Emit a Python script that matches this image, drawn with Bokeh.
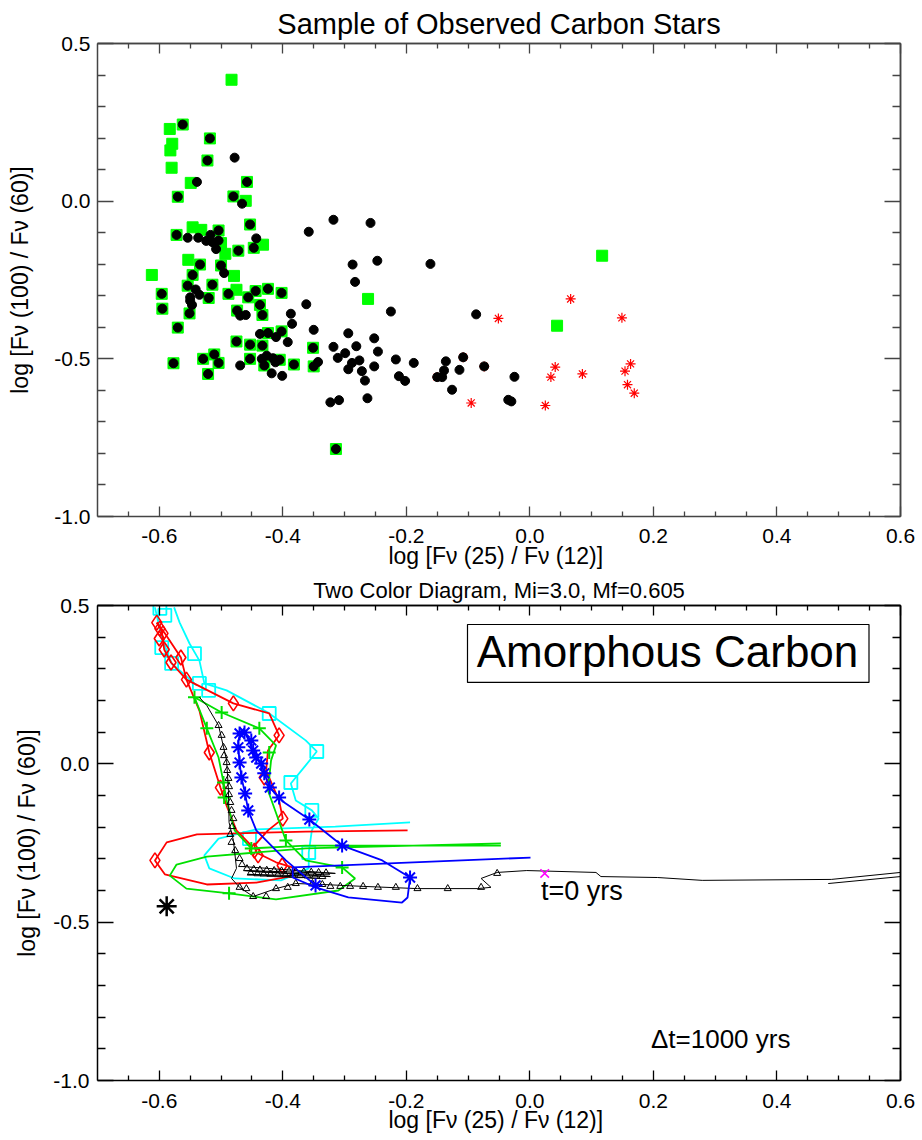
import numpy as np
from bokeh.plotting import figure
from bokeh.models import (Range1d, LinearAxis, FixedTicker, Label, BoxAnnotation,
                          PrintfTickFormatter)
from bokeh.layouts import column
from bokeh.embed import file_html
from bokeh.resources import INLINE

FONT = "Liberation Sans"

# ---------------- axes ----------------
X_MAJOR = [-0.6, -0.4, -0.2, 0.0, 0.2, 0.4, 0.6]
X_MINOR = [-0.65, -0.55, -0.5, -0.45, -0.35, -0.3, -0.25, -0.15, -0.1, -0.05,
           0.05, 0.1, 0.15, 0.25, 0.3, 0.35, 0.45, 0.5, 0.55]
Y_MAJOR = [-1.0, -0.5, 0.0, 0.5]
Y_MINOR = [-0.9, -0.8, -0.7, -0.6, -0.4, -0.3, -0.2, -0.1, 0.1, 0.2, 0.3, 0.4]

TITLE_TOP = "Sample of Observed Carbon Stars"
TITLE_BOTTOM = "Two Color Diagram, Mi=3.0, Mf=0.605"
X_LABEL = "log [Fν (25)  / Fν (12)]"
Y_LABEL = "log [Fν (100) / Fν (60)]"

# ---------------- top panel: observed carbon stars ----------------
BLACK_X = [-0.562, -0.518, -0.522, -0.478, -0.539, -0.458, -0.570, -0.480, -0.466, -0.453,
           -0.358, -0.572, -0.554, -0.537, -0.524, -0.517, -0.514, -0.504, -0.504, -0.508,
           -0.443, -0.447, -0.472, -0.534, -0.500, -0.495, -0.546, -0.514, -0.554, -0.541,
           -0.596, -0.550, -0.535, -0.520, -0.488, -0.456, -0.444, -0.424, -0.402, -0.550,
           -0.547, -0.595, -0.551, -0.437, -0.474, -0.469, -0.460, -0.433, -0.387, -0.362,
           -0.385, -0.570, -0.437, -0.424, -0.411, -0.402, -0.392, -0.350, -0.475, -0.453,
           -0.433, -0.351, -0.577, -0.529, -0.511, -0.504, -0.521, -0.469, -0.453, -0.434,
           -0.426, -0.430, -0.416, -0.412, -0.405, -0.418, -0.401, -0.382, -0.350, -0.343,
           -0.318, -0.258, -0.287, -0.247, -0.283, -0.225, -0.294, -0.252, -0.318, -0.281,
           -0.246, -0.299, -0.311, -0.288, -0.276, -0.294, -0.272, -0.252, -0.267, -0.217,
           -0.188, -0.212, -0.202, -0.323, -0.309, -0.263, -0.314, -0.161, -0.087, -0.136,
           -0.108, -0.139, -0.114, -0.150, -0.142, -0.126, -0.074, -0.025, -0.035, -0.030]
BLACK_Y = [0.243, 0.199, 0.129, 0.138, 0.061, 0.061, 0.014, 0.015, -0.008, -0.074,
           -0.097, -0.107, -0.116, -0.116, -0.126, -0.107, -0.130, -0.093, -0.125, -0.152,
           -0.118, -0.148, -0.157, -0.201, -0.204, -0.228, -0.234, -0.265, -0.268, -0.280,
           -0.294, -0.305, -0.297, -0.307, -0.294, -0.305, -0.285, -0.278, -0.291, -0.316,
           -0.329, -0.341, -0.356, -0.329, -0.347, -0.363, -0.361, -0.361, -0.357, -0.327,
           -0.389, -0.401, -0.421, -0.418, -0.431, -0.413, -0.447, -0.408, -0.445, -0.455,
           -0.458, -0.465, -0.514, -0.500, -0.486, -0.513, -0.548, -0.521, -0.500, -0.500,
           -0.490, -0.521, -0.498, -0.511, -0.503, -0.546, -0.554, -0.518, -0.524, -0.510,
           -0.059, -0.069, -0.201, -0.189, -0.256, -0.350, -0.419, -0.435, -0.462, -0.460,
           -0.477, -0.482, -0.497, -0.513, -0.505, -0.533, -0.539, -0.524, -0.569, -0.502,
           -0.513, -0.555, -0.570, -0.638, -0.631, -0.625, -0.786, -0.199, -0.359, -0.508,
           -0.495, -0.537, -0.535, -0.558, -0.558, -0.598, -0.524, -0.557, -0.630, -0.635]

GREEN_X = [-0.562, -0.518, -0.522, -0.458, -0.570, -0.480, -0.453, -0.572, -0.504, -0.447,
           -0.472, -0.534, -0.500, -0.546, -0.514, -0.554, -0.596, -0.520, -0.488, -0.456,
           -0.444, -0.424, -0.402, -0.595, -0.551, -0.437, -0.474, -0.433, -0.570, -0.424,
           -0.402, -0.475, -0.453, -0.433, -0.351, -0.577, -0.529, -0.511, -0.504, -0.521,
           -0.453, -0.430, -0.405, -0.382, -0.350, -0.314,
           -0.483, -0.583, -0.579, -0.582, -0.580, -0.549, -0.460, -0.546, -0.532, -0.500,
           -0.493, -0.432, -0.553, -0.612, -0.479, -0.475, -0.262, 0.117, 0.044]
GREEN_Y = [0.243, 0.199, 0.129, 0.061, 0.014, 0.015, -0.074, -0.107, -0.093, -0.148,
           -0.157, -0.201, -0.204, -0.234, -0.265, -0.268, -0.294, -0.307, -0.294, -0.305,
           -0.285, -0.278, -0.291, -0.341, -0.356, -0.329, -0.347, -0.361, -0.401, -0.418,
           -0.413, -0.445, -0.455, -0.458, -0.465, -0.514, -0.500, -0.486, -0.513, -0.548,
           -0.500, -0.521, -0.503, -0.518, -0.524, -0.786,
           0.385, 0.229, 0.182, 0.161, 0.106, 0.058, 0.001, -0.083, -0.091, -0.133,
           -0.167, -0.138, -0.186, -0.234, -0.237, -0.281, -0.310, -0.173, -0.395]

RED_X = [0.066, -0.051, 0.149, -0.095, 0.025, 0.041, 0.034, 0.085, 0.163, 0.154,
         0.158, 0.169, -0.108, -0.150, -0.074]
RED_Y = [-0.310, -0.372, -0.370, -0.640, -0.648, -0.526, -0.558, -0.548, -0.516, -0.539,
         -0.582, -0.609, -0.495, -0.558, -0.524]

# ---------------- bottom panel: model tracks ----------------
CYAN_A_X = [-0.194, -0.315, -0.443, -0.504, -0.527, -0.519, -0.478, -0.403, -0.358, -0.358,
            -0.353, -0.342, -0.353, -0.379, -0.387, -0.363, -0.345, -0.363, -0.424, -0.491,
            -0.527, -0.535, -0.551, -0.567, -0.576]
CYAN_A_Y = [-0.185, -0.198, -0.207, -0.236, -0.289, -0.330, -0.362, -0.368, -0.330, -0.280,
            -0.210, -0.173, -0.147, -0.116, -0.062, -0.005, 0.039, 0.074, 0.162, 0.232,
            0.254, 0.326, 0.380, 0.446, 0.494]
CYAN_B_X = [-0.539, -0.580, -0.596, -0.607]
CYAN_B_Y = [0.247, 0.317, 0.399, 0.494]
CYAN_SQ_X = [-0.599, -0.591, -0.596, -0.580, -0.543, -0.535, -0.520, -0.422, -0.345, -0.387,
             -0.353, -0.454, -0.358]
CYAN_SQ_Y = [0.491, 0.469, 0.367, 0.317, 0.348, 0.254, 0.232, 0.159, 0.039, -0.059,
             -0.147, -0.236, -0.280]

RED_A_X = [-0.198, -0.363, -0.539, -0.588, -0.607, -0.591, -0.523, -0.443, -0.390, -0.379,
           -0.411, -0.443, -0.446, -0.424, -0.400, -0.406, -0.427, -0.424, -0.406, -0.422,
           -0.480, -0.556, -0.581, -0.592, -0.596, -0.604]
RED_A_Y = [-0.210, -0.214, -0.223, -0.248, -0.305, -0.349, -0.381, -0.375, -0.356, -0.330,
           -0.311, -0.280, -0.258, -0.210, -0.173, -0.116, -0.021, 0.042, 0.090, 0.159,
           0.191, 0.266, 0.320, 0.361, 0.421, 0.446]
RED_B_X = [-0.604, -0.591, -0.565, -0.556, -0.535, -0.519, -0.501, -0.491, -0.475, -0.451]
RED_B_Y = [0.446, 0.412, 0.336, 0.266, 0.168, 0.036, -0.075, -0.132, -0.210, -0.258]
RED_D_X = [-0.604, -0.599, -0.594, -0.600, -0.592, -0.581, -0.565, -0.556, -0.480, -0.406,
           -0.430, -0.519, -0.501, -0.400, -0.446, -0.440, -0.607, -0.401]
RED_D_Y = [0.446, 0.427, 0.412, 0.396, 0.361, 0.320, 0.336, 0.266, 0.191, 0.090,
           -0.043, 0.036, -0.075, -0.173, -0.274, -0.289, -0.305, -0.321]

GREEN_L_X = [-0.047, -0.363, -0.523, -0.572, -0.583, -0.556, -0.487, -0.411, -0.310, -0.283,
             -0.304, -0.363, -0.395, -0.424, -0.419, -0.411, -0.438, -0.499, -0.543, -0.523,
             -0.504, -0.496, -0.491, -0.478, -0.451, -0.363, -0.047]
GREEN_L_Y = [-0.251, -0.267, -0.293, -0.318, -0.353, -0.394, -0.409, -0.428, -0.400, -0.362,
             -0.327, -0.305, -0.242, -0.084, 0.011, 0.058, 0.112, 0.162, 0.210, 0.112,
             0.020, -0.059, -0.116, -0.210, -0.267, -0.258, -0.258]
GREEN_P_X = [-0.543, -0.499, -0.438, -0.422, -0.523, -0.496, -0.495, -0.395, -0.487, -0.304, -0.451]
GREEN_P_Y = [0.210, 0.162, 0.112, 0.036, 0.112, -0.059, -0.106, -0.242, -0.409, -0.327, -0.267]

BLUE_L_X = [0.001, -0.384, -0.384, -0.347, -0.294, -0.207, -0.198, -0.194, -0.239, -0.304,
            -0.357, -0.400, -0.421, -0.430, -0.435, -0.443, -0.448, -0.459, -0.467, -0.472,
            -0.472, -0.470, -0.467, -0.461, -0.456, -0.443, -0.395, -0.347]
BLUE_L_Y = [-0.296, -0.327, -0.359, -0.390, -0.422, -0.438, -0.422, -0.359, -0.305, -0.258,
            -0.176, -0.119, -0.075, -0.030, 0.001, 0.020, 0.042, 0.090, 0.105, 0.074,
            0.052, 0.004, -0.043, -0.094, -0.147, -0.210, -0.305, -0.384]
BLUE_S_X = [-0.470, -0.462, -0.472, -0.451, -0.448, -0.443, -0.435, -0.430, -0.470, -0.467,
            -0.461, -0.456, -0.421, -0.406, -0.357, -0.304, -0.194, -0.347]
BLUE_S_Y = [0.096, 0.099, 0.052, 0.074, 0.042, 0.020, 0.001, -0.030, 0.004, -0.043,
            -0.094, -0.147, -0.075, -0.106, -0.176, -0.258, -0.359, -0.384]

BLACK_L_X = [0.600, 0.488, 0.279, 0.207, 0.115, 0.107, -0.005, -0.053, -0.079, -0.063,
             -0.085, -0.182, -0.270, -0.336, -0.379, -0.411, -0.448, -0.470, -0.483, -0.475,
             -0.480, -0.487, -0.488, -0.491, -0.504, -0.523, -0.535]
BLACK_L_Y = [-0.343, -0.365, -0.368, -0.359, -0.356, -0.343, -0.337, -0.343, -0.362, -0.390,
             -0.394, -0.394, -0.387, -0.381, -0.378, -0.394, -0.419, -0.390, -0.362, -0.330,
             -0.242, -0.185, -0.084, 0.011, 0.121, 0.184, 0.210]
BLACK_B_X = [0.483, 0.600]
BLACK_B_Y = [-0.378, -0.356]
BLACK_C_X = [-0.467, -0.315, -0.462, -0.323, -0.456, -0.339]
BLACK_C_Y = [-0.324, -0.346, -0.337, -0.356, -0.349, -0.362]
BLACK_T_X = [-0.182, -0.217, -0.246, -0.270, -0.291, -0.307, -0.323, -0.336, -0.352, -0.379,
             -0.392, -0.411, -0.427, -0.448, -0.459, -0.470, -0.053, -0.079, -0.133,
             -0.504, -0.499, -0.496, -0.495, -0.491, -0.490, -0.488, -0.487, -0.487, -0.485,
             -0.483, -0.480, -0.482, -0.485, -0.483, -0.477, -0.470, -0.466,
             -0.458, -0.447, -0.437, -0.426, -0.414, -0.402, -0.390, -0.379, -0.366, -0.354,
             -0.342, -0.330, -0.452, -0.441, -0.431, -0.420, -0.408, -0.396, -0.384, -0.372,
             -0.360, -0.348, -0.336]
BLACK_T_Y = [-0.394, -0.390, -0.390, -0.387, -0.387, -0.387, -0.387, -0.381, -0.378, -0.378,
             -0.390, -0.394, -0.419, -0.419, -0.394, -0.390, -0.346, -0.390, -0.394,
             0.121, 0.090, 0.052, 0.026, 0.004, -0.021, -0.046, -0.072, -0.097, -0.122,
             -0.147, -0.173, -0.198, -0.223, -0.248, -0.274, -0.299, -0.318,
             -0.331, -0.333, -0.335, -0.336, -0.337, -0.338, -0.339, -0.340, -0.341, -0.342,
             -0.343, -0.344, -0.345, -0.347, -0.348, -0.349, -0.350, -0.351, -0.352, -0.353,
             -0.354, -0.355, -0.356]
START_X, START_Y = [0.024], [-0.346]
STAR_X, STAR_Y = [-0.588], [-0.450]


def tick_only_axis(positions, length, col):
    ax = LinearAxis(ticker=FixedTicker(ticks=[], minor_ticks=positions))
    ax.major_tick_in = 0
    ax.major_tick_out = 0
    ax.minor_tick_in = length
    ax.minor_tick_out = 0
    ax.major_label_standoff = 0
    ax.axis_line_color = col
    ax.axis_line_width = 1.5
    ax.minor_tick_line_color = col
    ax.minor_tick_line_width = 1.3
    return ax


def make_fig(h, left, right, top, bottom, col, xstand, ystand, xlab_stand, ylab_stand):
    p = figure(width=922, height=h, x_range=Range1d(-0.7, 0.6), y_range=Range1d(-1.0, 0.5),
               x_axis_type=None, y_axis_type=None, output_backend="svg", toolbar_location=None,
               min_border_left=left, min_border_right=right, min_border_top=top,
               min_border_bottom=bottom)
    p.outline_line_color = None
    p.background_fill_color = "white"
    p.border_fill_color = "white"
    for side, maj, mnr, tin, tmin, stand, lab, lstand in [
            ("below", X_MAJOR, X_MINOR, 10, 5, xstand, X_LABEL, xlab_stand),
            ("left", Y_MAJOR, Y_MINOR, 16, 8, ystand, Y_LABEL, ylab_stand)]:
        ax = LinearAxis(ticker=FixedTicker(ticks=maj, minor_ticks=mnr),
                        formatter=PrintfTickFormatter(format="%.1f"))
        ax.major_tick_in = tin
        ax.major_tick_out = 0
        ax.minor_tick_in = tmin
        ax.minor_tick_out = 0
        ax.axis_line_color = col
        ax.axis_line_width = 1.5
        ax.major_tick_line_color = col
        ax.minor_tick_line_color = col
        ax.major_tick_line_width = 1.3
        ax.minor_tick_line_width = 1.3
        ax.major_label_text_font = FONT
        ax.major_label_text_font_size = "21px"
        ax.major_label_text_color = "black"
        ax.major_label_standoff = stand
        ax.axis_label = lab
        ax.axis_label_text_font = FONT
        ax.axis_label_text_font_size = "23px"
        ax.axis_label_text_font_style = "normal"
        ax.axis_label_text_color = "black"
        ax.axis_label_standoff = lstand
        p.add_layout(ax, side)
    # tick-only axes on top and right (major and minor ticks as separate axes)
    p.add_layout(tick_only_axis(X_MAJOR, 10, col), "above")
    p.add_layout(tick_only_axis(X_MINOR, 5, col), "above")
    p.add_layout(tick_only_axis(Y_MAJOR, 16, col), "right")
    p.add_layout(tick_only_axis(Y_MINOR, 8, col), "right")
    return p


# ---------------- top figure ----------------
p1 = make_fig(573, 97, 19, 43, 57, "#444444", 12, 7, -3, 18)
p1.title.text = TITLE_TOP
p1.title.text_font = FONT
p1.title.text_font_size = "29px"
p1.title.text_font_style = "normal"
p1.title.text_color = "black"
p1.title.align = "center"
p1.title.standoff = 7

p1.scatter(GREEN_X, GREEN_Y, marker="square", size=11, fill_color="#00ff00", line_color="#00ff00")
p1.scatter(RED_X, RED_Y, marker="asterisk", size=10, line_color="red", line_width=1.2)
p1.scatter(BLACK_X, BLACK_Y, marker="circle", size=9, fill_color="black", line_color="black")

# ---------------- bottom figure ----------------
p2 = make_fig(567, 90, 22, 32, 60, "black", 13, 8, -4, 10)
p2.title.text = TITLE_BOTTOM
p2.title.text_font = FONT
p2.title.text_font_size = "22px"
p2.title.text_font_style = "normal"
p2.title.text_color = "black"
p2.title.align = "center"
p2.title.standoff = 5

p2.line(CYAN_A_X, CYAN_A_Y, line_color="cyan", line_width=1.8)
p2.line(CYAN_B_X, CYAN_B_Y, line_color="cyan", line_width=1.8)
p2.scatter(CYAN_SQ_X, CYAN_SQ_Y, marker="square", size=13, fill_color=None,
           line_color="cyan", line_width=1.8)
p2.line(RED_A_X, RED_A_Y, line_color="red", line_width=1.8)
p2.line(RED_B_X, RED_B_Y, line_color="red", line_width=1.8)
p2.scatter(RED_D_X, RED_D_Y, marker="diamond", size=15, fill_color=None,
           line_color="red", line_width=1.6)
p2.line(GREEN_L_X, GREEN_L_Y, line_color="#00e000", line_width=1.8)
p2.scatter(GREEN_P_X, GREEN_P_Y, marker="cross", size=13, line_color="#00e000", line_width=2)
p2.line(BLACK_L_X, BLACK_L_Y, line_color="black", line_width=1)
p2.line(BLACK_B_X, BLACK_B_Y, line_color="black", line_width=1)
p2.line(BLACK_C_X, BLACK_C_Y, line_color="black", line_width=1)
p2.scatter(BLACK_T_X, BLACK_T_Y, marker="triangle", size=7, fill_color=None,
           line_color="black", line_width=1)
p2.line(BLUE_L_X, BLUE_L_Y, line_color="blue", line_width=1.8)
p2.scatter(BLUE_S_X, BLUE_S_Y, marker="asterisk", size=14, line_color="blue", line_width=2)
p2.scatter(START_X, START_Y, marker="x", size=12, line_color="magenta", line_width=1.5)
p2.scatter(STAR_X, STAR_Y, marker="asterisk", size=20, line_color="black", line_width=2.5)

p2.add_layout(BoxAnnotation(left=-0.101, right=0.549, top=0.440, bottom=0.257,
                            fill_color="white", fill_alpha=1.0, line_color="black",
                            line_alpha=1.0, line_width=1.2))
p2.add_layout(Label(x=-0.086, y=0.356, text="Amorphous Carbon", text_font=FONT,
                    text_font_size="44px", text_baseline="alphabetic", text_color="black"))
p2.add_layout(Label(x=0.018, y=-0.400, text="t=0 yrs", text_font=FONT,
                    text_font_size="27px", text_baseline="alphabetic", text_color="black"))
p2.add_layout(Label(x=0.196, y=-0.870, text="\u0394t=1000 yrs", text_font=FONT,
                    text_font_size="26px", text_baseline="alphabetic", text_color="black"))

layout = column(p1, p2, spacing=0)
open("out.html", "w").write(file_html(layout, INLINE))
